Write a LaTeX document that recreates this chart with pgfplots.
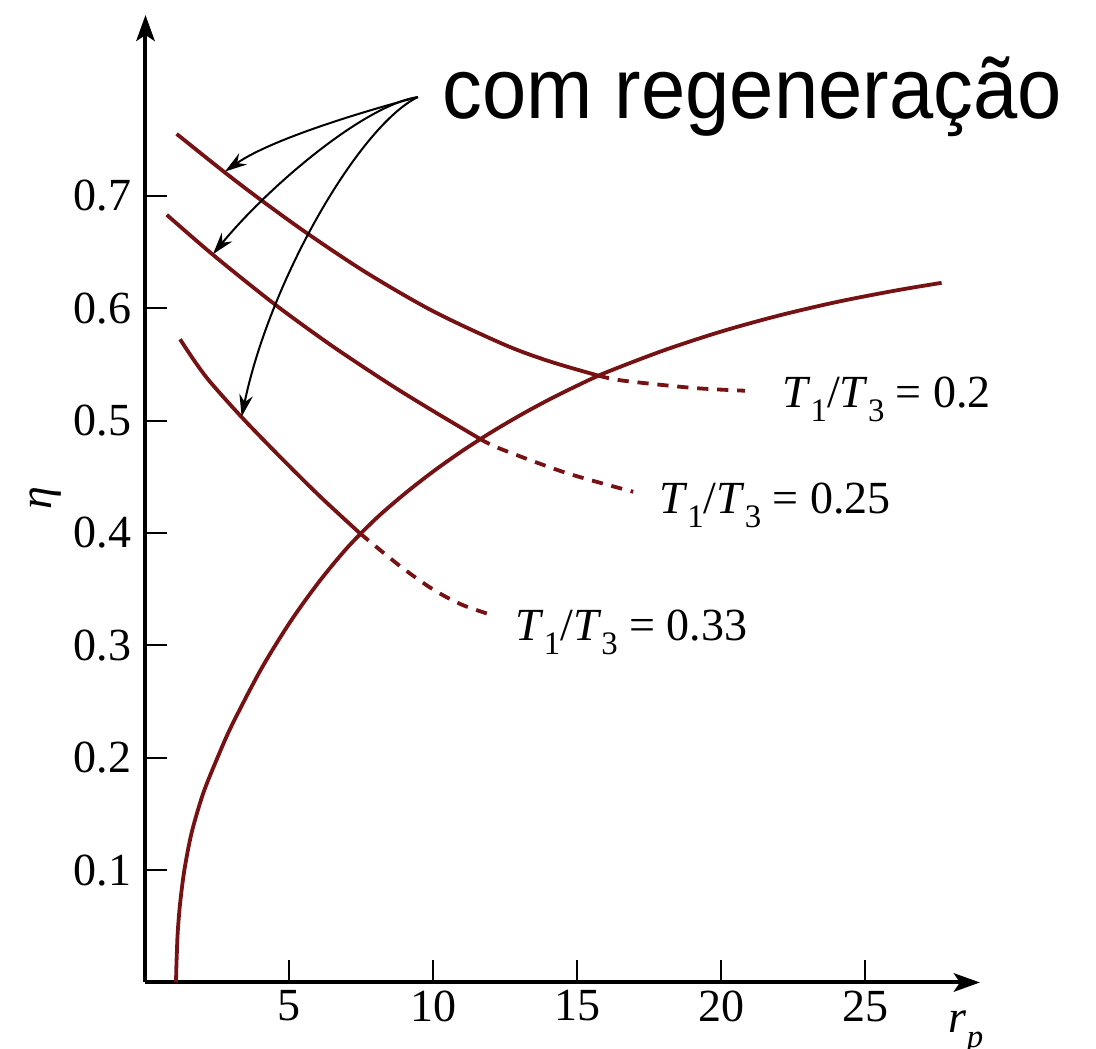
\documentclass[border=0pt]{standalone}
\usepackage{fontspec}
\setmainfont{Liberation Serif}
\newfontfamily\sansfont{Liberation Sans}
\usepackage{pgfplots}
\pgfplotsset{compat=1.18}
\usetikzlibrary{arrows.meta}

\definecolor{curve}{RGB}{118,18,20}

% lowered, smaller subscript as set in the labels
\newcommand{\sub}[1]{\raisebox{-3.6pt}{\fontsize{8.2}{9}\selectfont #1}}
\newcommand{\ratio}[1]{\textit{T}\sub{1}/\textit{T}\sub{3} = #1}

% efficiency without regeneration
\pgfplotstableread{
x y
1.06 0.000
1.07 0.012
1.09 0.027
1.12 0.045
1.20 0.070
1.35 0.100
1.60 0.133
2.00 0.168
2.50 0.200
3.00 0.2289
4.00 0.2781
5.00 0.3198
6.00 0.3556
7.00 0.3866
8.00 0.4126
9.00 0.4348
10.00 0.4548
11.00 0.4729
12.00 0.4894
13.00 0.5045
14.00 0.5184
15.00 0.5311
16.00 0.5428
18.00 0.5624
20.00 0.5792
22.00 0.5934
24.00 0.6054
26.00 0.6154
27.65 0.6225
}\semregen

% with regeneration, T1/T3 = 0.2
\pgfplotstableread{
x y
1.08 0.755
2.76 0.7206
4.00 0.6964
5.60 0.6668
7.68 0.6314
10.00 0.5971
12.50 0.5671
14.05 0.5525
15.72 0.5400
}\regA
\pgfplotstableread{
x y
15.72 0.5400
16.58 0.5355
19.01 0.5290
20.82 0.5265
}\regAd

% with regeneration, T1/T3 = 0.25
\pgfplotstableread{
x y
0.74 0.683
2.35 0.6473
4.50 0.6032
6.50 0.5660
8.50 0.5320
10.00 0.5083
11.61 0.4838
}\regB
\pgfplotstableread{
x y
11.61 0.4838
12.31 0.4750
14.62 0.4533
16.94 0.4366
}\regBd

% with regeneration, T1/T3 = 0.33
\pgfplotstableread{
x y
1.20 0.5723
1.70 0.553
2.24 0.5345
3.34 0.503
4.67 0.4678
6.06 0.4325
7.45 0.3996
}\regC
\pgfplotstableread{
x y
7.45 0.3996
8.84 0.3705
10.00 0.3495
11.00 0.336
12.08 0.3265
}\regCd

\begin{document}
\begin{tikzpicture}
\useasboundingbox (-36.375pt,-16.625pt) rectangle (237.625pt,245.625pt);
\begin{axis}[
  at={(0pt,0pt)}, anchor=south west,
  scale only axis, width=208.6pt, height=241.875pt,
  xmin=0, xmax=28.98, ymin=0, ymax=0.8608,
  enlargelimits=false, clip=false,
  axis lines=left,
  axis line style={line width=1pt, black, -{Stealth[length=6.5pt,width=4.6pt,inset=1.5pt]}},
  tick align=inside, major tick length=5.5pt,
  tick style={line width=0.5pt, black},
  xtick={5,10,15,20,25}, xticklabels={5,10,15,20,25},
  ytick={0.1,0.2,0.3,0.4,0.5,0.6,0.7},
  yticklabels={0.1,0.2,0.3,0.4,0.5,0.6,0.7},
  ticklabel style={font=\fontsize{11.5}{13}\selectfont},
  xticklabel style={yshift=1.5pt},
  xlabel={\textit{r}\sub{\textit{p}}},
  xlabel style={at={(axis description cs:0.9617,-0.0522)}, anchor=base west, inner sep=0pt, font=\fontsize{11.5}{13}\selectfont},
  ylabel={\textit{η}},
  ylabel style={at={(axis description cs:-0.1192,0.5007)}, anchor=center, font=\fontsize{11.5}{13}\selectfont},
  every axis plot/.append style={curve, line width=0.95pt},
]
\addplot[smooth] table {\semregen};
\addplot[smooth] table {\regA};
\addplot[smooth, dash pattern=on 2.8pt off 2.2pt] table {\regAd};
\addplot[smooth] table {\regB};
\addplot[smooth, dash pattern=on 2.8pt off 2.2pt] table {\regBd};
\addplot[smooth] table {\regC};
\addplot[smooth, dash pattern=on 2.8pt off 2.2pt] table {\regCd};

% curve labels
\node[anchor=base west, inner sep=0pt, font=\fontsize{11.5}{13}\selectfont] at (axis cs:22.09,0.5117) {\ratio{0.2}};
\node[anchor=base west, inner sep=0pt, font=\fontsize{11.5}{13}\selectfont] at (axis cs:17.81,0.4174) {\ratio{0.25}};
\node[anchor=base west, inner sep=0pt, font=\fontsize{11.5}{13}\selectfont] at (axis cs:12.83,0.3047) {\ratio{0.33}};

% annotation and its pointers
\node[anchor=base west, inner sep=0pt, xscale=0.925, font=\sansfont\fontsize{21.5}{24}\selectfont] at (axis cs:10.295,0.769) {com regeneração};
\begin{scope}[line width=0.5pt, black, -{Stealth[length=5.5pt,width=3.4pt]}]
\draw (axis cs:9.462,0.7878) .. controls (axis cs:7.448,0.7743) and (axis cs:4.323,0.7496) .. (axis cs:2.760,0.7215);
\draw (axis cs:9.462,0.7878) .. controls (axis cs:7.622,0.7808) and (axis cs:4.323,0.7095) .. (axis cs:2.344,0.6480);
\draw (axis cs:9.462,0.7878) .. controls (axis cs:7.448,0.7629) and (axis cs:4.323,0.6250) .. (axis cs:3.340,0.5034);
\end{scope}
\end{axis}
\end{tikzpicture}
\end{document}
